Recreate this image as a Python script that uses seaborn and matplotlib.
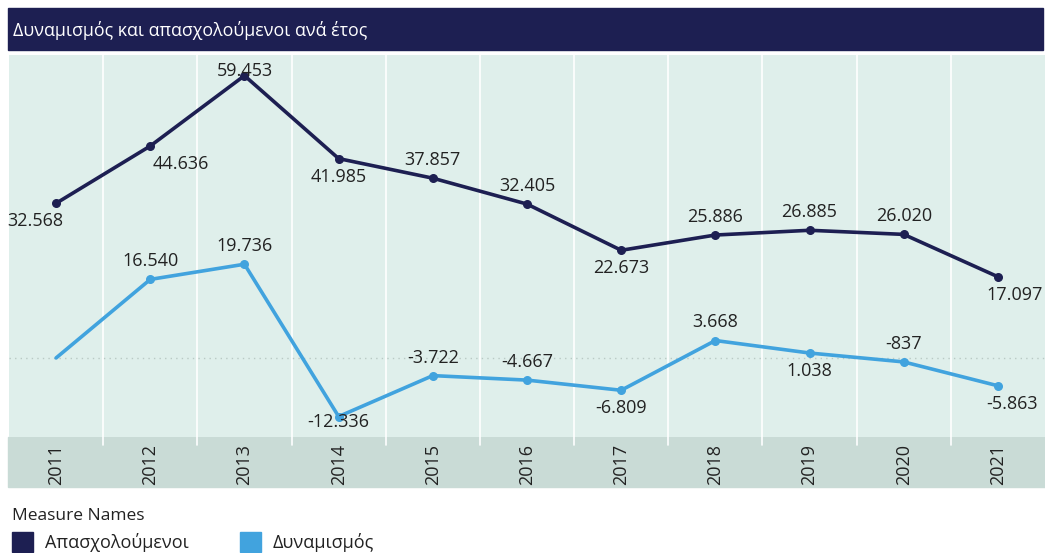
import numpy as np
import pandas as pd
import matplotlib.pyplot as plt
import seaborn as sns
from matplotlib.patches import Rectangle

sns.set_style("white")
plt.rcParams['font.family'] = ['Open Sans', 'DejaVu Sans']

years = ["2011", "2012", "2013", "2014", "2015", "2016", "2017", "2018", "2019", "2020", "2021"]
employed = [32568, 44636, 59453, 41985, 37857, 32405, 22673, 25886, 26885, 26020, 17097]
dynamism = [0, 16540, 19736, -12336, -3722, -4667, -6809, 3668, 1038, -837, -5863]
dynamism_labels = ["", "16.540", "19.736", "-12.336", "-3.722", "-4.667", "-6.809", "3.668", "1.038", "-837", "-5.863"]
employed_labels = ["32.568", "44.636", "59.453", "41.985", "37.857", "32.405", "22.673", "25.886", "26.885", "26.020", "17.097"]

# label above (+1) or below (-1) the point
employed_pos = [-1, -1, 1, -1, 1, 1, -1, 1, 1, 1, -1]
dynamism_pos = [0, 1, 1, -1, 1, 1, -1, 1, -1, 1, -1]

NAVY = "#1d1f52"
BLUE = "#41a3de"
BG = "#dfefeb"
BAND = "#c9dbd6"

df = pd.DataFrame({"year": years * 2,
                   "value": employed + dynamism,
                   "measure": ["Απασχολούμενοι"] * len(years) + ["Δυναμισμός"] * len(years)})
df["x"] = df.groupby("measure").cumcount()

fig = plt.figure(figsize=(10.45, 5.53), dpi=100)
ax = fig.add_axes([9 / 1045, 1 - 437 / 553, 1036 / 1045, (437 - 55) / 553])
ax.set_facecolor(BG)

sns.lineplot(data=df, x="x", y="value", hue="measure", palette=[NAVY, BLUE],
             linewidth=2.6, legend=False, ax=ax)
ax.scatter(range(len(years)), employed, color=NAVY, s=30, zorder=4)
ax.scatter(range(1, len(years)), dynamism[1:], color=BLUE, s=30, zorder=4)

ax.set_xlim(-0.5, len(years) - 0.5)
ax.set_ylim(-16650, 63800)
ax.axhline(0, color="#b9c9c4", lw=1, ls=(0, (1, 3)), zorder=1)
for i in range(1, len(years)):
    ax.axvline(i - 0.5, ymin=-0.02, ymax=1, color="white", lw=1.2, zorder=0,
               clip_on=False)

emp_dx = {0: -15, 1: 22, 10: 12}
emp_dy = {2: 3}
for i, (v, t, p) in enumerate(zip(employed, employed_labels, employed_pos)):
    ax.annotate(t, (i, v), xytext=(emp_dx.get(i, 0), emp_dy.get(i, 13 * p)),
                textcoords="offset points",
                ha="center", va="center", fontsize=13, color="#222222", zorder=5)
dyn_dx = {10: 10}
dyn_dy = {3: -4}
for i, (v, t, p) in enumerate(zip(dynamism, dynamism_labels, dynamism_pos)):
    if not t:
        continue
    ax.annotate(t, (i, v), xytext=(dyn_dx.get(i, 0), dyn_dy.get(i, 13 * p)),
                textcoords="offset points",
                ha="center", va="center", fontsize=13, color="#222222", zorder=5)

ax.set_yticks([])
ax.set_xticks(range(len(years)))
ax.set_xticklabels(years, rotation=90, fontsize=13, color="#222222")
ax.tick_params(axis="x", length=0, pad=5)
ax.set_xlabel("")
ax.set_ylabel("")
for s in ax.spines.values():
    s.set_visible(False)

# x band behind year labels
fig.patches.append(Rectangle((8 / 1045, 1 - 487 / 553), 1037 / 1045, 50 / 553,
                             transform=fig.transFigure, color=BAND, zorder=-1))
# title bar
fig.patches.append(Rectangle((8 / 1045, 1 - 50 / 553), 1035 / 1045, 42 / 553,
                             transform=fig.transFigure, color=NAVY, zorder=-1))
fig.text(13 / 1045, 1 - 30 / 553, "Δυναμισμός και απασχολούμενοι ανά έτος",
         color="white", fontsize=12.8, va="center", ha="left")

# legend
fig.text(12 / 1045, 1 - 516 / 553, "Measure Names", fontsize=12.5, color="#222222",
         va="center", ha="left")
for x0, col, name in [(12, NAVY, "Απασχολούμενοι"), (240, BLUE, "Δυναμισμός")]:
    fig.patches.append(Rectangle((x0 / 1045, 1 - 552 / 553), 21 / 1045, 20 / 553,
                                 transform=fig.transFigure, color=col))
    fig.text((x0 + 33) / 1045, 1 - 543 / 553, name, fontsize=13, color="#222222",
             va="center", ha="left")

fig.savefig("out.png", dpi=100)
